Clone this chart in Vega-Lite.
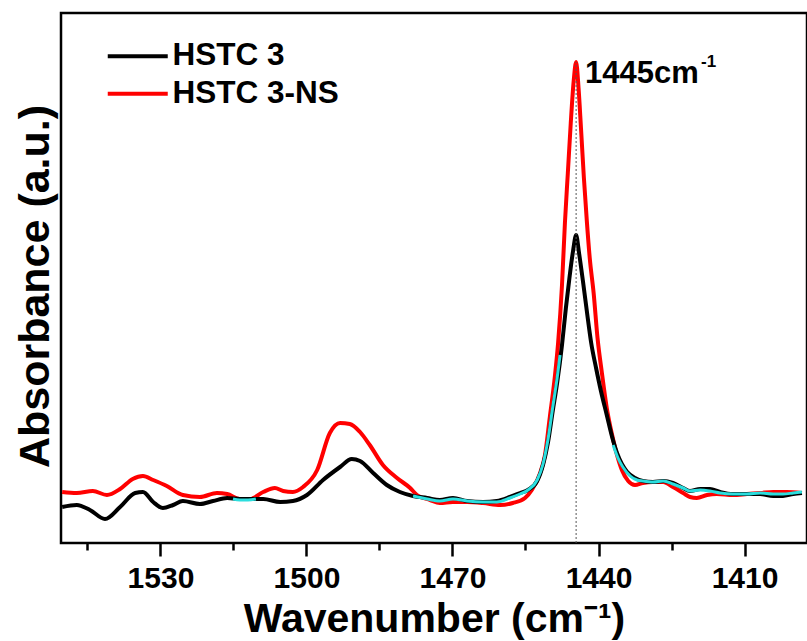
{
  "$schema": "https://vega.github.io/schema/vega-lite/v6.json",
  "width": 746,
  "height": 530,
  "autosize": "none",
  "padding": {"left": 61, "top": 13, "right": 0, "bottom": 98},
  "background": "white",
  "config": {
    "font": "Liberation Sans",
    "view": {"stroke": "black", "strokeWidth": 2.5}
  },
  "datasets": {
    "spectra": [
      {"series": "HSTC 3", "wavenumber": 1550.2, "absorbance": 36},
      {"series": "HSTC 3", "wavenumber": 1547.2, "absorbance": 38},
      {"series": "HSTC 3", "wavenumber": 1544.5, "absorbance": 33},
      {"series": "HSTC 3", "wavenumber": 1541.4, "absorbance": 24},
      {"series": "HSTC 3", "wavenumber": 1538.3, "absorbance": 36},
      {"series": "HSTC 3", "wavenumber": 1535.2, "absorbance": 50},
      {"series": "HSTC 3", "wavenumber": 1533.6, "absorbance": 51},
      {"series": "HSTC 3", "wavenumber": 1531.5, "absorbance": 41},
      {"series": "HSTC 3", "wavenumber": 1529.5, "absorbance": 35},
      {"series": "HSTC 3", "wavenumber": 1527.4, "absorbance": 38},
      {"series": "HSTC 3", "wavenumber": 1525.4, "absorbance": 42},
      {"series": "HSTC 3", "wavenumber": 1521.9, "absorbance": 39},
      {"series": "HSTC 3", "wavenumber": 1519.2, "absorbance": 42},
      {"series": "HSTC 3", "wavenumber": 1516.3, "absorbance": 45},
      {"series": "HSTC 3", "wavenumber": 1513.7, "absorbance": 44},
      {"series": "HSTC 3", "wavenumber": 1511.0, "absorbance": 44},
      {"series": "HSTC 3", "wavenumber": 1508.9, "absorbance": 44},
      {"series": "HSTC 3", "wavenumber": 1505.4, "absorbance": 41},
      {"series": "HSTC 3", "wavenumber": 1502.8, "absorbance": 42},
      {"series": "HSTC 3", "wavenumber": 1499.9, "absorbance": 48},
      {"series": "HSTC 3", "wavenumber": 1496.6, "absorbance": 63},
      {"series": "HSTC 3", "wavenumber": 1493.1, "absorbance": 76},
      {"series": "HSTC 3", "wavenumber": 1490.7, "absorbance": 84},
      {"series": "HSTC 3", "wavenumber": 1489.0, "absorbance": 82},
      {"series": "HSTC 3", "wavenumber": 1486.3, "absorbance": 70},
      {"series": "HSTC 3", "wavenumber": 1483.5, "absorbance": 58},
      {"series": "HSTC 3", "wavenumber": 1480.8, "absorbance": 51},
      {"series": "HSTC 3", "wavenumber": 1478.1, "absorbance": 47},
      {"series": "HSTC 3", "wavenumber": 1475.2, "absorbance": 45},
      {"series": "HSTC 3", "wavenumber": 1472.6, "absorbance": 43},
      {"series": "HSTC 3", "wavenumber": 1469.9, "absorbance": 45},
      {"series": "HSTC 3", "wavenumber": 1467.0, "absorbance": 42},
      {"series": "HSTC 3", "wavenumber": 1463.7, "absorbance": 41},
      {"series": "HSTC 3", "wavenumber": 1460.9, "absorbance": 42},
      {"series": "HSTC 3", "wavenumber": 1458.2, "absorbance": 46},
      {"series": "HSTC 3", "wavenumber": 1456.1, "absorbance": 50},
      {"series": "HSTC 3", "wavenumber": 1454.5, "absorbance": 53},
      {"series": "HSTC 3", "wavenumber": 1452.6, "absorbance": 62},
      {"series": "HSTC 3", "wavenumber": 1451.4, "absorbance": 78},
      {"series": "HSTC 3", "wavenumber": 1450.4, "absorbance": 100},
      {"series": "HSTC 3", "wavenumber": 1449.4, "absorbance": 132},
      {"series": "HSTC 3", "wavenumber": 1448.5, "absorbance": 160},
      {"series": "HSTC 3", "wavenumber": 1447.5, "absorbance": 198},
      {"series": "HSTC 3", "wavenumber": 1446.7, "absorbance": 235},
      {"series": "HSTC 3", "wavenumber": 1445.9, "absorbance": 268},
      {"series": "HSTC 3", "wavenumber": 1445.2, "absorbance": 293},
      {"series": "HSTC 3", "wavenumber": 1444.6, "absorbance": 308},
      {"series": "HSTC 3", "wavenumber": 1444.0, "absorbance": 290},
      {"series": "HSTC 3", "wavenumber": 1443.2, "absorbance": 262},
      {"series": "HSTC 3", "wavenumber": 1442.4, "absorbance": 232},
      {"series": "HSTC 3", "wavenumber": 1441.5, "absorbance": 200},
      {"series": "HSTC 3", "wavenumber": 1440.5, "absorbance": 175},
      {"series": "HSTC 3", "wavenumber": 1439.5, "absorbance": 152},
      {"series": "HSTC 3", "wavenumber": 1438.3, "absorbance": 128},
      {"series": "HSTC 3", "wavenumber": 1437.2, "absorbance": 106},
      {"series": "HSTC 3", "wavenumber": 1436.2, "absorbance": 90},
      {"series": "HSTC 3", "wavenumber": 1435.2, "absorbance": 79},
      {"series": "HSTC 3", "wavenumber": 1434.1, "absorbance": 71},
      {"series": "HSTC 3", "wavenumber": 1432.5, "absorbance": 65},
      {"series": "HSTC 3", "wavenumber": 1430.9, "absorbance": 62},
      {"series": "HSTC 3", "wavenumber": 1428.8, "absorbance": 61},
      {"series": "HSTC 3", "wavenumber": 1426.7, "absorbance": 62},
      {"series": "HSTC 3", "wavenumber": 1424.7, "absorbance": 60},
      {"series": "HSTC 3", "wavenumber": 1422.6, "absorbance": 55},
      {"series": "HSTC 3", "wavenumber": 1421.2, "absorbance": 52},
      {"series": "HSTC 3", "wavenumber": 1419.1, "absorbance": 54},
      {"series": "HSTC 3", "wavenumber": 1417.1, "absorbance": 54},
      {"series": "HSTC 3", "wavenumber": 1415.0, "absorbance": 51},
      {"series": "HSTC 3", "wavenumber": 1412.4, "absorbance": 49},
      {"series": "HSTC 3", "wavenumber": 1409.5, "absorbance": 49},
      {"series": "HSTC 3", "wavenumber": 1406.8, "absorbance": 49},
      {"series": "HSTC 3", "wavenumber": 1404.1, "absorbance": 47},
      {"series": "HSTC 3", "wavenumber": 1402.1, "absorbance": 47},
      {"series": "HSTC 3", "wavenumber": 1400.0, "absorbance": 49},
      {"series": "HSTC 3", "wavenumber": 1398.2, "absorbance": 50},
      {"series": "HSTC 3-NS", "wavenumber": 1550.2, "absorbance": 51},
      {"series": "HSTC 3-NS", "wavenumber": 1547.2, "absorbance": 50},
      {"series": "HSTC 3-NS", "wavenumber": 1543.9, "absorbance": 52},
      {"series": "HSTC 3-NS", "wavenumber": 1541.0, "absorbance": 48},
      {"series": "HSTC 3-NS", "wavenumber": 1538.3, "absorbance": 54},
      {"series": "HSTC 3-NS", "wavenumber": 1535.7, "absorbance": 64},
      {"series": "HSTC 3-NS", "wavenumber": 1533.6, "absorbance": 67},
      {"series": "HSTC 3-NS", "wavenumber": 1531.5, "absorbance": 63},
      {"series": "HSTC 3-NS", "wavenumber": 1528.7, "absorbance": 57},
      {"series": "HSTC 3-NS", "wavenumber": 1525.4, "absorbance": 48},
      {"series": "HSTC 3-NS", "wavenumber": 1521.9, "absorbance": 46},
      {"series": "HSTC 3-NS", "wavenumber": 1518.4, "absorbance": 50},
      {"series": "HSTC 3-NS", "wavenumber": 1516.3, "absorbance": 49},
      {"series": "HSTC 3-NS", "wavenumber": 1513.7, "absorbance": 44},
      {"series": "HSTC 3-NS", "wavenumber": 1511.6, "absorbance": 44},
      {"series": "HSTC 3-NS", "wavenumber": 1508.9, "absorbance": 51},
      {"series": "HSTC 3-NS", "wavenumber": 1506.5, "absorbance": 55},
      {"series": "HSTC 3-NS", "wavenumber": 1504.8, "absorbance": 52},
      {"series": "HSTC 3-NS", "wavenumber": 1502.8, "absorbance": 51},
      {"series": "HSTC 3-NS", "wavenumber": 1500.7, "absorbance": 56},
      {"series": "HSTC 3-NS", "wavenumber": 1497.8, "absorbance": 73},
      {"series": "HSTC 3-NS", "wavenumber": 1495.2, "absorbance": 110},
      {"series": "HSTC 3-NS", "wavenumber": 1493.1, "absorbance": 120},
      {"series": "HSTC 3-NS", "wavenumber": 1491.1, "absorbance": 119},
      {"series": "HSTC 3-NS", "wavenumber": 1489.0, "absorbance": 111},
      {"series": "HSTC 3-NS", "wavenumber": 1487.0, "absorbance": 98},
      {"series": "HSTC 3-NS", "wavenumber": 1484.3, "absorbance": 78},
      {"series": "HSTC 3-NS", "wavenumber": 1481.4, "absorbance": 65},
      {"series": "HSTC 3-NS", "wavenumber": 1478.7, "absorbance": 55},
      {"series": "HSTC 3-NS", "wavenumber": 1477.3, "absorbance": 48},
      {"series": "HSTC 3-NS", "wavenumber": 1474.6, "absorbance": 43},
      {"series": "HSTC 3-NS", "wavenumber": 1472.6, "absorbance": 40},
      {"series": "HSTC 3-NS", "wavenumber": 1469.9, "absorbance": 41},
      {"series": "HSTC 3-NS", "wavenumber": 1467.0, "absorbance": 41},
      {"series": "HSTC 3-NS", "wavenumber": 1463.7, "absorbance": 40},
      {"series": "HSTC 3-NS", "wavenumber": 1460.2, "absorbance": 38},
      {"series": "HSTC 3-NS", "wavenumber": 1457.6, "absorbance": 40},
      {"series": "HSTC 3-NS", "wavenumber": 1455.1, "absorbance": 45},
      {"series": "HSTC 3-NS", "wavenumber": 1453.7, "absorbance": 53},
      {"series": "HSTC 3-NS", "wavenumber": 1452.0, "absorbance": 70},
      {"series": "HSTC 3-NS", "wavenumber": 1451.0, "absorbance": 88},
      {"series": "HSTC 3-NS", "wavenumber": 1450.0, "absorbance": 126},
      {"series": "HSTC 3-NS", "wavenumber": 1449.0, "absorbance": 165},
      {"series": "HSTC 3-NS", "wavenumber": 1448.3, "absorbance": 200},
      {"series": "HSTC 3-NS", "wavenumber": 1447.5, "absorbance": 258},
      {"series": "HSTC 3-NS", "wavenumber": 1446.9, "absorbance": 320},
      {"series": "HSTC 3-NS", "wavenumber": 1446.3, "absorbance": 370},
      {"series": "HSTC 3-NS", "wavenumber": 1445.7, "absorbance": 420},
      {"series": "HSTC 3-NS", "wavenumber": 1445.1, "absorbance": 462},
      {"series": "HSTC 3-NS", "wavenumber": 1444.6, "absorbance": 481},
      {"series": "HSTC 3-NS", "wavenumber": 1444.1, "absorbance": 455},
      {"series": "HSTC 3-NS", "wavenumber": 1443.6, "absorbance": 415},
      {"series": "HSTC 3-NS", "wavenumber": 1443.0, "absorbance": 365},
      {"series": "HSTC 3-NS", "wavenumber": 1442.4, "absorbance": 322},
      {"series": "HSTC 3-NS", "wavenumber": 1441.8, "absorbance": 285},
      {"series": "HSTC 3-NS", "wavenumber": 1441.0, "absorbance": 250},
      {"series": "HSTC 3-NS", "wavenumber": 1440.2, "absorbance": 205},
      {"series": "HSTC 3-NS", "wavenumber": 1439.3, "absorbance": 170},
      {"series": "HSTC 3-NS", "wavenumber": 1438.3, "absorbance": 135},
      {"series": "HSTC 3-NS", "wavenumber": 1437.2, "absorbance": 108},
      {"series": "HSTC 3-NS", "wavenumber": 1436.2, "absorbance": 88},
      {"series": "HSTC 3-NS", "wavenumber": 1435.2, "absorbance": 73},
      {"series": "HSTC 3-NS", "wavenumber": 1433.9, "absorbance": 62},
      {"series": "HSTC 3-NS", "wavenumber": 1432.5, "absorbance": 58},
      {"series": "HSTC 3-NS", "wavenumber": 1430.9, "absorbance": 60},
      {"series": "HSTC 3-NS", "wavenumber": 1428.8, "absorbance": 61},
      {"series": "HSTC 3-NS", "wavenumber": 1426.7, "absorbance": 61},
      {"series": "HSTC 3-NS", "wavenumber": 1424.7, "absorbance": 56},
      {"series": "HSTC 3-NS", "wavenumber": 1422.6, "absorbance": 50},
      {"series": "HSTC 3-NS", "wavenumber": 1421.2, "absorbance": 46},
      {"series": "HSTC 3-NS", "wavenumber": 1419.8, "absorbance": 45},
      {"series": "HSTC 3-NS", "wavenumber": 1417.7, "absorbance": 48},
      {"series": "HSTC 3-NS", "wavenumber": 1415.7, "absorbance": 49},
      {"series": "HSTC 3-NS", "wavenumber": 1412.4, "absorbance": 48},
      {"series": "HSTC 3-NS", "wavenumber": 1409.5, "absorbance": 49},
      {"series": "HSTC 3-NS", "wavenumber": 1406.8, "absorbance": 50},
      {"series": "HSTC 3-NS", "wavenumber": 1404.1, "absorbance": 51},
      {"series": "HSTC 3-NS", "wavenumber": 1401.3, "absorbance": 51},
      {"series": "HSTC 3-NS", "wavenumber": 1398.2, "absorbance": 50}
    ],
    "overlap": [
      {"seg": "a", "wavenumber": 1515.1, "absorbance": 44},
      {"seg": "a", "wavenumber": 1513.7, "absorbance": 43},
      {"seg": "a", "wavenumber": 1512.0, "absorbance": 43},
      {"seg": "a", "wavenumber": 1510.4, "absorbance": 44},
      {"seg": "b", "wavenumber": 1478.1, "absorbance": 47},
      {"seg": "b", "wavenumber": 1475.2, "absorbance": 44},
      {"seg": "b", "wavenumber": 1472.6, "absorbance": 42},
      {"seg": "b", "wavenumber": 1469.9, "absorbance": 44},
      {"seg": "b", "wavenumber": 1467.0, "absorbance": 42},
      {"seg": "b", "wavenumber": 1463.7, "absorbance": 41},
      {"seg": "b", "wavenumber": 1460.9, "absorbance": 41},
      {"seg": "b", "wavenumber": 1458.2, "absorbance": 45},
      {"seg": "b", "wavenumber": 1456.1, "absorbance": 49},
      {"seg": "b", "wavenumber": 1454.5, "absorbance": 53},
      {"seg": "b", "wavenumber": 1452.6, "absorbance": 63},
      {"seg": "b", "wavenumber": 1451.4, "absorbance": 79},
      {"seg": "b", "wavenumber": 1450.4, "absorbance": 103},
      {"seg": "b", "wavenumber": 1449.4, "absorbance": 136},
      {"seg": "b", "wavenumber": 1448.5, "absorbance": 165},
      {"seg": "b", "wavenumber": 1447.9, "absorbance": 188},
      {"seg": "c", "wavenumber": 1437.0, "absorbance": 98},
      {"seg": "c", "wavenumber": 1436.0, "absorbance": 85},
      {"seg": "c", "wavenumber": 1435.0, "absorbance": 76},
      {"seg": "c", "wavenumber": 1433.5, "absorbance": 67},
      {"seg": "c", "wavenumber": 1432.1, "absorbance": 63},
      {"seg": "c", "wavenumber": 1430.9, "absorbance": 62},
      {"seg": "c", "wavenumber": 1428.8, "absorbance": 61},
      {"seg": "c", "wavenumber": 1426.7, "absorbance": 62},
      {"seg": "c", "wavenumber": 1424.7, "absorbance": 59},
      {"seg": "c", "wavenumber": 1422.6, "absorbance": 55},
      {"seg": "c", "wavenumber": 1421.2, "absorbance": 52},
      {"seg": "c", "wavenumber": 1419.1, "absorbance": 53},
      {"seg": "c", "wavenumber": 1417.1, "absorbance": 52},
      {"seg": "c", "wavenumber": 1415.0, "absorbance": 50},
      {"seg": "c", "wavenumber": 1412.4, "absorbance": 49},
      {"seg": "c", "wavenumber": 1409.5, "absorbance": 49},
      {"seg": "c", "wavenumber": 1406.8, "absorbance": 50},
      {"seg": "c", "wavenumber": 1404.1, "absorbance": 49},
      {"seg": "c", "wavenumber": 1402.1, "absorbance": 49},
      {"seg": "c", "wavenumber": 1400.0, "absorbance": 50},
      {"seg": "c", "wavenumber": 1398.2, "absorbance": 51}
    ],
    "peak": [
      {"wavenumber": 1444.6, "absorbance": 481, "label": "1445cm", "sup": "-1"}
    ]
  },
  "encoding": {
    "x": {
      "field": "wavenumber",
      "type": "quantitative",
      "scale": {"domain": [1397.16, 1550.44], "reverse": true, "nice": false, "zero": false},
      "axis": {
        "title": "Wavenumber (cm⁻¹)",
        "values": [1545, 1530, 1515, 1500, 1485, 1470, 1455, 1440, 1425, 1410],
        "format": "d",
        "labelExpr": "datum.value % 30 == 0 ? datum.label : ''",
        "tickSize": {"condition": {"test": "datum.value % 30 == 0", "value": 13}, "value": 7},
        "tickWidth": 2.5,
        "tickColor": "black",
        "domain": false,
        "grid": false,
        "labelOverlap": false,
        "labelFlush": false,
        "labelBound": false,
        "labelFontSize": 30,
        "labelFontWeight": "bold",
        "labelColor": "black",
        "labelPadding": 7,
        "titleFontSize": 41,
        "titleFontWeight": "bold",
        "titleColor": "black",
        "titlePadding": 6
      }
    },
    "y": {
      "field": "absorbance",
      "type": "quantitative",
      "scale": {"domain": [0, 530], "nice": false, "zero": false},
      "axis": {
        "title": "Absorbance (a.u.)",
        "domain": false,
        "ticks": false,
        "labels": false,
        "grid": false,
        "titleFontSize": 43,
        "titleFontWeight": "bold",
        "titleColor": "black",
        "titlePadding": 4,
        "titleY": 273
      }
    }
  },
  "layer": [
    {
      "data": {"name": "spectra"},
      "transform": [{"filter": "datum.series == 'HSTC 3-NS'"}],
      "mark": {"type": "line", "strokeWidth": 4, "interpolate": "monotone"},
      "encoding": {
        "color": {
          "field": "series",
          "type": "nominal",
          "scale": {"domain": ["HSTC 3", "HSTC 3-NS"], "range": ["#000000", "#ff0000"]},
          "legend": {
            "title": null,
            "orient": "none",
            "legendX": 41,
            "legendY": 27.5,
            "padding": 0,
            "symbolType": "M-1,0H5",
            "symbolSize": 400,
            "symbolStrokeWidth": 4,
            "symbolOffset": 0,
            "labelFontSize": 31.5,
            "labelFontWeight": "bold",
            "labelColor": "black",
            "labelOffset": 39,
            "labelLimit": 400,
            "rowPadding": 4.6
          }
        }
      }
    },
    {
      "data": {"name": "spectra"},
      "transform": [{"filter": "datum.series == 'HSTC 3'"}],
      "mark": {"type": "line", "strokeWidth": 4, "interpolate": "monotone"},
      "encoding": {
        "color": {"field": "series", "type": "nominal"}
      }
    },
    {
      "data": {"name": "overlap"},
      "mark": {"type": "line", "strokeWidth": 3, "color": "#2bdede", "interpolate": "monotone"},
      "encoding": {"detail": {"field": "seg", "type": "nominal"}}
    },
    {
      "data": {"name": "peak"},
      "mark": {"type": "rule", "color": "#555555", "strokeWidth": 1, "strokeDash": [2, 2]},
      "encoding": {"y": {"datum": 0}, "y2": {"field": "absorbance"}}
    },
    {
      "data": {"name": "peak"},
      "mark": {"type": "text", "align": "left", "baseline": "alphabetic", "dx": 9, "dy": 21, "fontSize": 31, "fontWeight": "bold", "color": "black"},
      "encoding": {"text": {"field": "label"}}
    },
    {
      "data": {"name": "peak"},
      "mark": {"type": "text", "align": "left", "baseline": "alphabetic", "dx": 125, "dy": 5, "fontSize": 17, "fontWeight": "bold", "color": "black"},
      "encoding": {"text": {"field": "sup"}}
    }
  ]
}
